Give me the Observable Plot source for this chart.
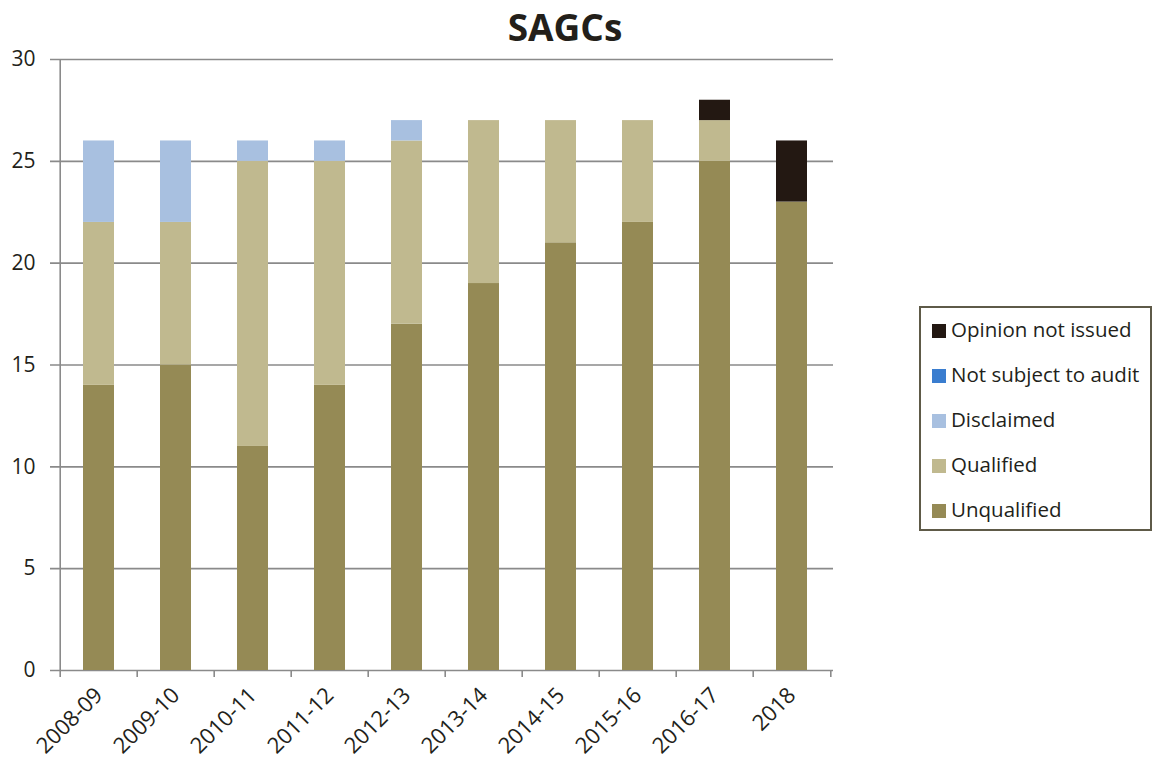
<!DOCTYPE html>
<html>
<head>
<meta charset="utf-8">
<script src="https://cdn.jsdelivr.net/npm/d3@7"></script>
<script src="https://cdn.jsdelivr.net/npm/@observablehq/plot@0.6"></script>
<style>
  html, body { margin: 0; padding: 0; background: #fff; }
  #wrap { position: relative; width: 1160px; height: 762px; font-family: "Open Sans", "Noto Sans", sans-serif; color: #231f1a; }
  #title { position: absolute; left: 0; top: 0; width: 1130px; text-align: center; font-size: 37px; font-weight: 700; line-height: 54px; }
  #legend { position: absolute; left: 919px; top: 306px; width: 229px; height: 221px; border: 2px solid #5e5a48; box-sizing: content-box; }
  .item { position: absolute; left: 11px; font-size: 20.5px; line-height: 24px; white-space: nowrap; }
  .sw { display: inline-block; width: 14px; height: 14px; margin-right: 5px; vertical-align: -1px; }
  #chart { position: absolute; left: 0; top: 0; }
</style>
</head>
<body>
<div id="wrap">
  <div id="chart"></div>
  <div id="title">SAGCs</div>
  <div id="legend"></div>
</div>
<script>
// Audit opinions for SAGCs by financial year
const years = ["2008-09", "2009-10", "2010-11", "2011-12", "2012-13", "2013-14", "2014-15", "2015-16", "2016-17", "2018"];
const unqualified = [14, 15, 11, 14, 17, 19, 21, 22, 25, 23];
const qualified = [8, 7, 14, 11, 9, 8, 6, 5, 2, 0];
const disclaimed = [4, 4, 1, 1, 1, 0, 0, 0, 0, 0];
const notSubjectToAudit = [0, 0, 0, 0, 0, 0, 0, 0, 0, 0];
const opinionNotIssued = [0, 0, 0, 0, 0, 0, 0, 0, 1, 3];
const yTicks = [0, 5, 10, 15, 20, 25, 30];

const seriesNames = ["Unqualified", "Qualified", "Disclaimed", "Not subject to audit", "Opinion not issued"];
const seriesValues = [unqualified, qualified, disclaimed, notSubjectToAudit, opinionNotIssued];
const seriesColors = ["#958a55", "#c0b98f", "#a8c0e0", "#3a7dcf", "#231812"];

const rows = [];
seriesNames.forEach((name, s) => {
  years.forEach((year, i) => rows.push({year, series: name, value: seriesValues[s][i]}));
});

const W = 1160, H = 762;
const mL = 57, mR = 327, mT = 59, mB = 92;
const step = (W - mL - mR) / years.length;

const chart = Plot.plot({
  width: W,
  height: H,
  marginLeft: mL,
  marginRight: mR,
  marginTop: mT,
  marginBottom: mB,
  style: {fontFamily: '"Open Sans", "Noto Sans", sans-serif', color: "#231f1a", background: "white"},
  x: {domain: years, paddingInner: 0.6, paddingOuter: 0.3, label: null},
  y: {domain: [0, 30], label: null},
  color: {domain: seriesNames, range: seriesColors},
  marks: [
    // horizontal gridlines with outward ticks on the left
    Plot.ruleY(yTicks, {y: d => d, stroke: "#8a8a8a", strokeWidth: 1.6, insetLeft: -7}),
    // vertical axis line
    Plot.ruleX([years[0]], {x: d => d, dx: -step / 2, stroke: "#8a8a8a", strokeWidth: 1.6}),
    // category boundary ticks below the baseline
    Plot.ruleX(years, {x: d => d, dx: -step / 2, y1: 0, y2: 0, insetTop: 7, stroke: "#8a8a8a", strokeWidth: 1.6}),
    Plot.ruleX([years[years.length - 1]], {x: d => d, dx: step / 2, y1: 0, y2: 0, insetTop: 7, stroke: "#8a8a8a", strokeWidth: 1.6}),
    Plot.barY(rows, {x: "year", y: "value", fill: "series", order: seriesNames}),
    Plot.axisY({ticks: yTicks, tickSize: 0, tickPadding: 22, fontSize: 21, label: null}),
    Plot.axisX({tickSize: 0, tickRotate: -45, tickPadding: 21, fontSize: 22, label: null})
  ]
});
document.getElementById("chart").appendChild(chart);

// legend, top entry is the top of the stack
const legend = document.getElementById("legend");
const order = seriesNames.map((n, i) => i).reverse();
order.forEach((s, k) => {
  const div = document.createElement("div");
  div.className = "item";
  div.style.top = (9 + k * 45) + "px";
  const sw = document.createElement("span");
  sw.className = "sw";
  sw.style.background = seriesColors[s];
  div.appendChild(sw);
  div.appendChild(document.createTextNode(seriesNames[s]));
  legend.appendChild(div);
});
</script>
</body>
</html>
